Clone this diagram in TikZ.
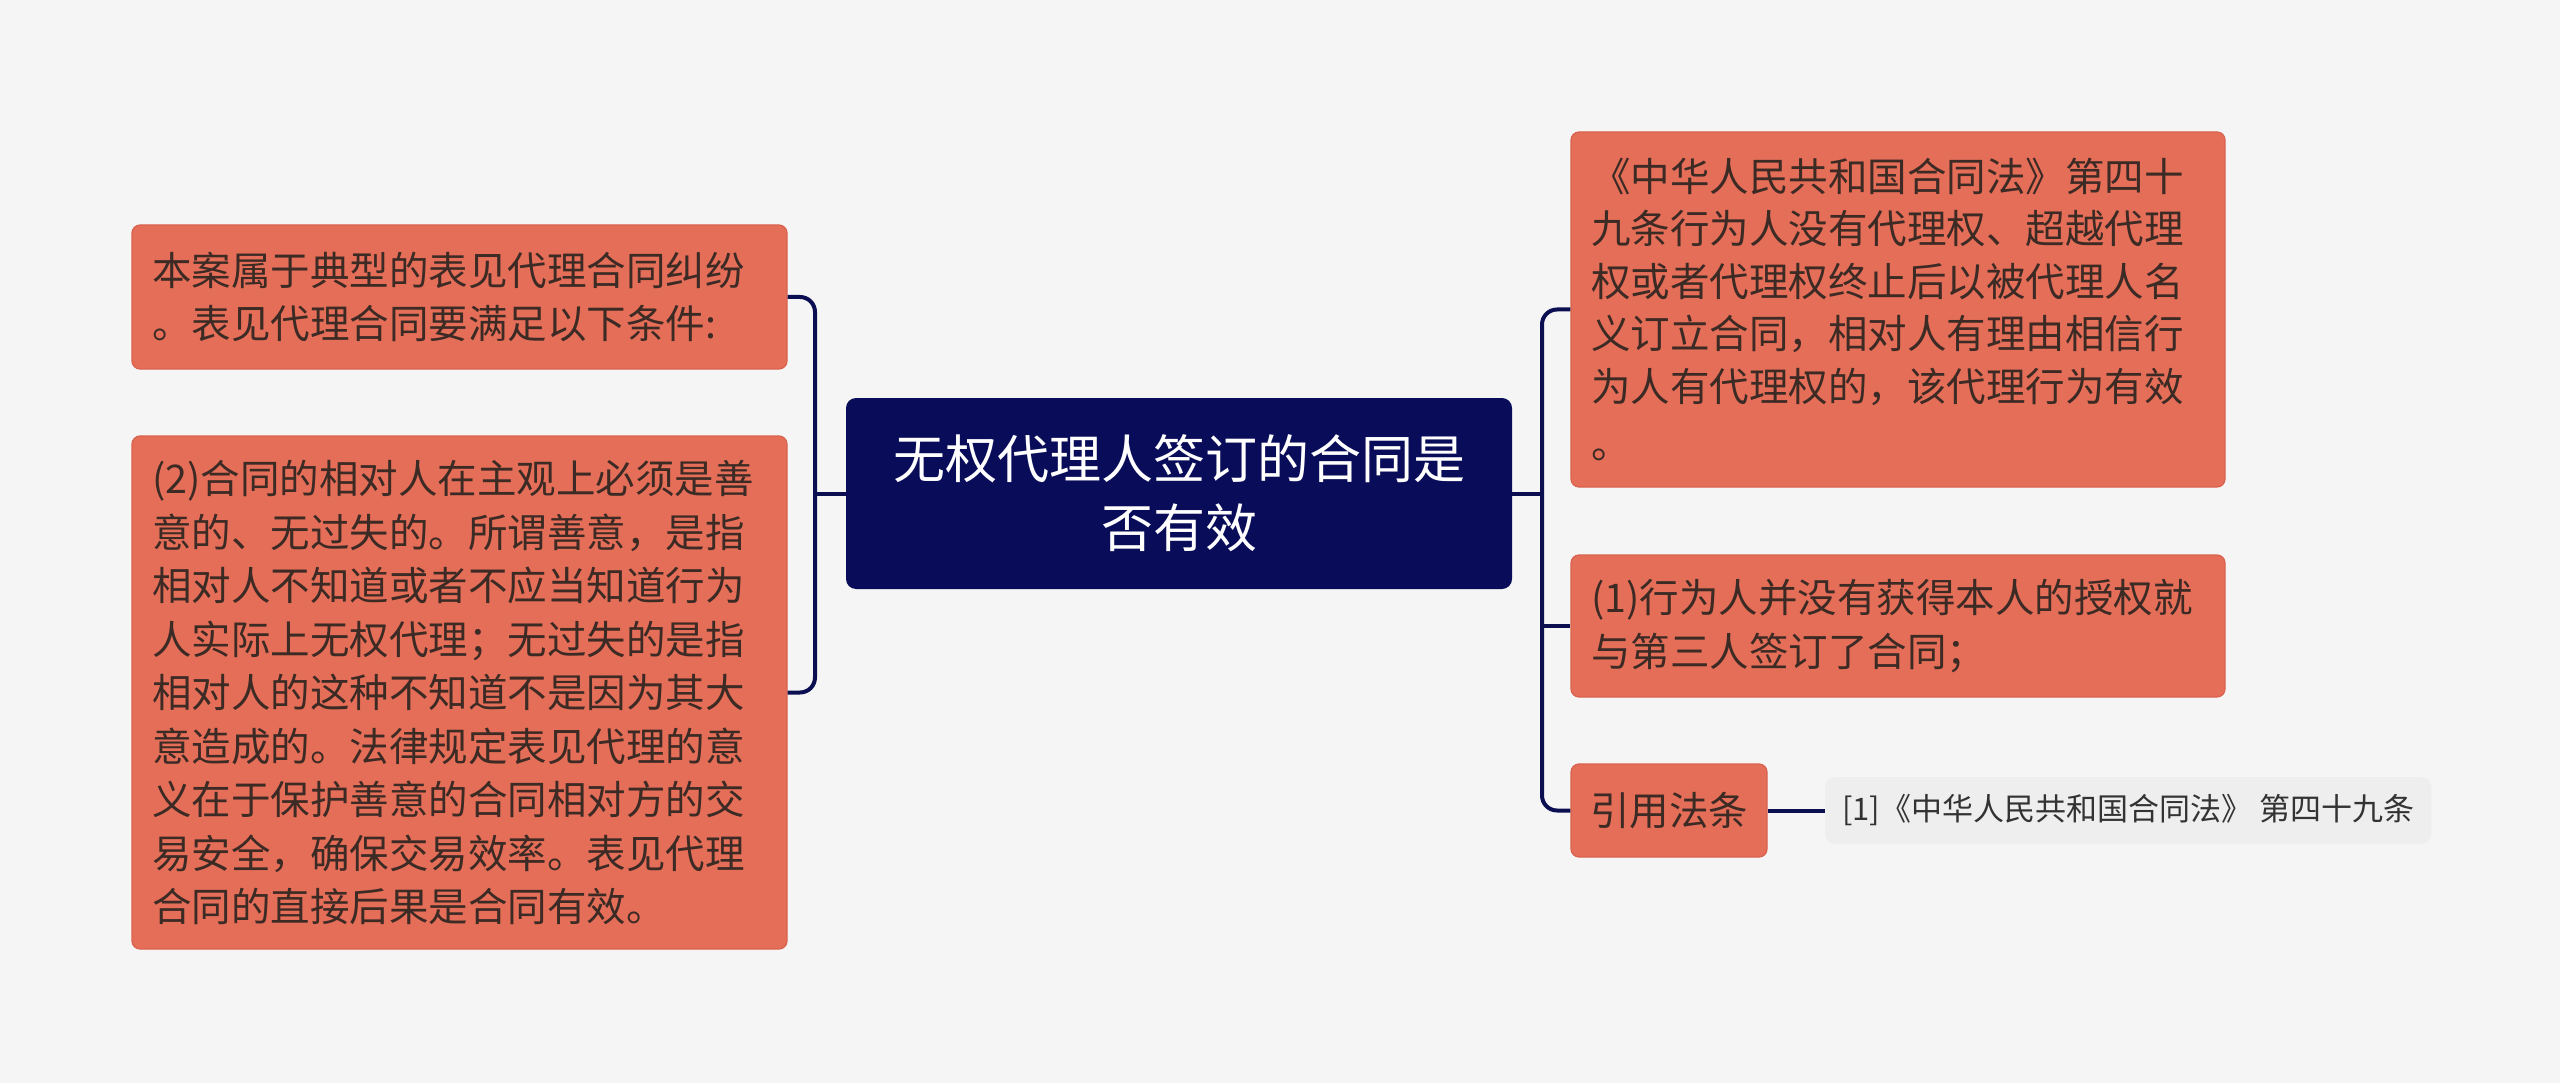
\documentclass[tikz,border=0pt]{standalone}
\usepackage{fontspec}
\setmainfont{Noto Sans CJK SC}
\definecolor{bgc}{HTML}{F5F5F5}
\definecolor{orangef}{HTML}{E56E58}
\definecolor{oranged}{HTML}{D8624D}
\definecolor{navy}{HTML}{090D59}
\definecolor{linec}{HTML}{0B0F52}
\definecolor{txtc}{HTML}{3C2A25}
\definecolor{refbg}{HTML}{EEEEEE}
\definecolor{reftxt}{HTML}{333333}
\begin{document}
\begin{tikzpicture}[x=1pt,y=-1pt,
  obox/.style={draw=oranged, line width=1.2pt, fill=orangef, rounded corners=8pt,
    text=txtc, align=left, inner xsep=20pt, inner ysep=0pt,
    font=\fontsize{39.5pt}{53.5pt}\selectfont},
  cbox/.style={fill=navy, rounded corners=10pt, text=white, align=center,
    font=\fontsize{52pt}{69pt}\selectfont, inner sep=0pt},
  rbox/.style={fill=refbg, rounded corners=10pt, text=reftxt, anchor=west,
    font=\fontsize{31pt}{40pt}\selectfont, inner xsep=17pt, inner ysep=0pt},
  conn/.style={draw=linec, line width=4pt}]
\fill[bgc] (0,0) rectangle (2560,1083);
\useasboundingbox (0,0) rectangle (2560,1083);

\node[cbox, minimum width=666pt, minimum height=191pt] (C) at (1179,493.5)
  {无权代理人签订的合同是\\否有效};

\node[obox, text width=615pt, minimum height=144pt] (A) at (459.5,297)
  {本案属于典型的表见代理合同纠纷\\。表见代理合同要满足以下条件:};

\node[obox, text width=615pt, minimum height=513pt] (B) at (459.5,692.5)
  {(2)合同的相对人在主观上必须是善\\意的、无过失的。所谓善意，是指\\相对人不知道或者不应当知道行为\\人实际上无权代理；无过失的是指\\相对人的这种不知道不是因为其大\\意造成的。法律规定表见代理的意\\义在于保护善意的合同相对方的交\\易安全，确保交易效率。表见代理\\合同的直接后果是合同有效。};

\node[obox, text width=614pt, minimum height=355pt, font=\fontsize{39.5pt}{52.5pt}\selectfont] (R1) at (1898,309.5)
  {《中华人民共和国合同法》第四十\\九条行为人没有代理权、超越代理\\权或者代理权终止后以被代理人名\\义订立合同，相对人有理由相信行\\为人有代理权的，该代理行为有效\\[5pt]。};

\node[obox, text width=614pt, minimum height=142pt] (R2) at (1898,626)
  {(1)行为人并没有获得本人的授权就\\与第三人签订了合同；};

\node[obox, align=center, inner xsep=0pt, minimum width=196pt, minimum height=93pt] (R3) at (1669,810.5)
  {引用法条};

\node[rbox, minimum width=601pt, minimum height=67pt] (Ref) at (1825,810.5)
  {[1]《中华人民共和国合同法》 第四十九条};

\coordinate (lx) at (815,493.5);
\coordinate (rx) at (1542,493.5);

\draw[conn, rounded corners=15pt] (A.east) -- (A.east -| lx) -- (B.east -| lx) -- (B.east);
\draw[conn] (C.west) -- (C.west -| lx);

\draw[conn, rounded corners=15pt] (R1.west) -- (R1.west -| rx) -- (R3.west -| rx) -- (R3.west);
\draw[conn] (R2.west -| rx) -- (R2.west);
\draw[conn] (C.east) -- (C.east -| rx);
\draw[conn] (R3.east) -- (Ref.west);
\end{tikzpicture}
\end{document}
